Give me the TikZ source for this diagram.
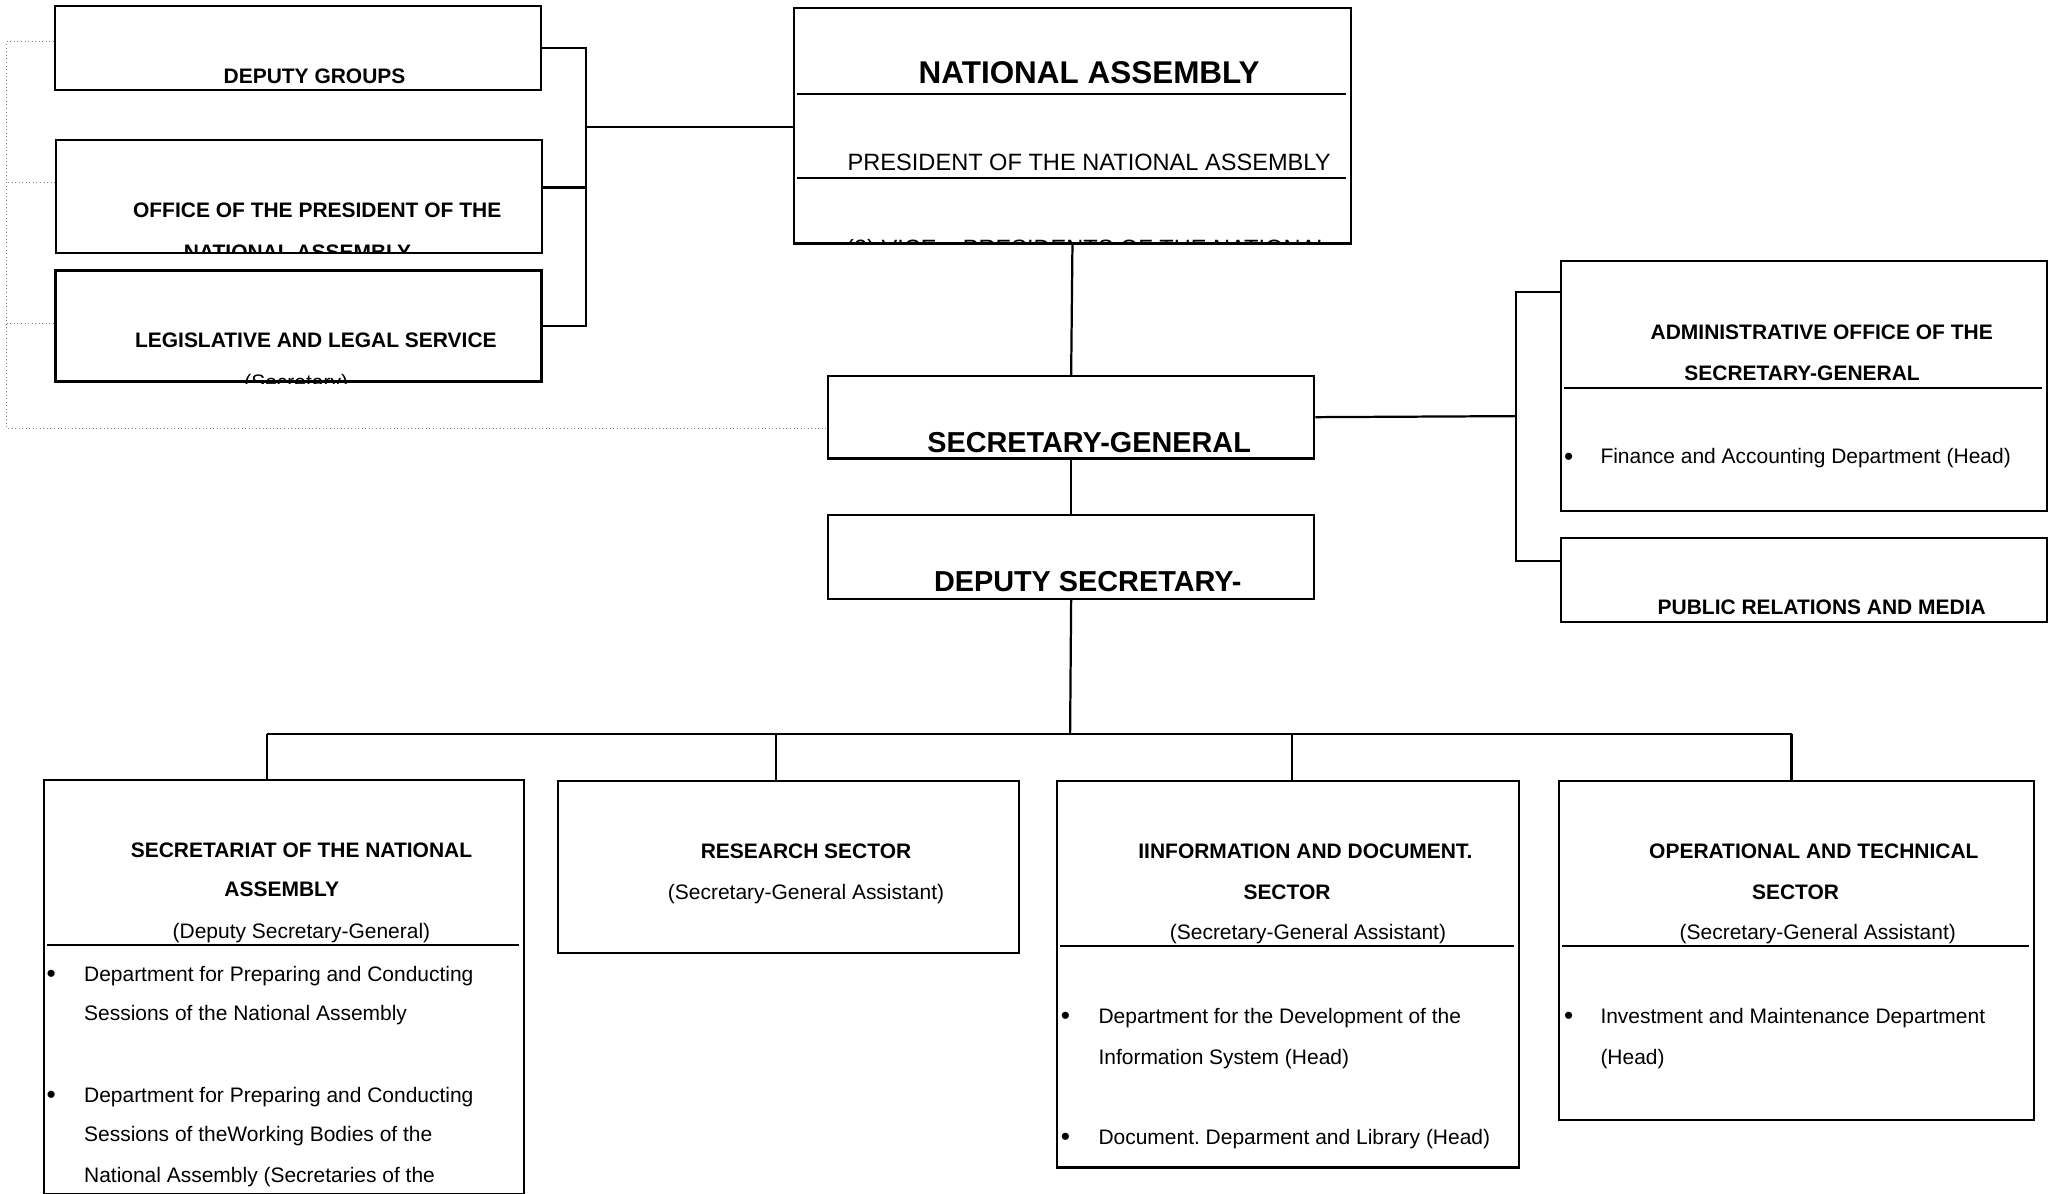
\documentclass[tikz,border=0pt]{standalone}
\usepackage{fontspec}
\setmainfont{Liberation Sans}
\usetikzlibrary{positioning,calc}
\frenchspacing

\begin{document}
\begin{tikzpicture}[
  x=1pt, y=-1pt,
  orgbox/.style={draw, line width=1.6pt, inner sep=0pt, anchor=north west},
  heavybox/.style={orgbox, line width=2.6pt},
  hd/.style={anchor=base, inner sep=0pt, font=\fontsize{16}{19}\selectfont\bfseries},
  bighd/.style={hd, font=\fontsize{22}{26}\selectfont\bfseries},
  tl/.style={anchor=base, inner sep=0pt, font=\fontsize{16}{19}\selectfont},
  item/.style={tl, anchor=base west},
  bul/.style={tl, font=\fontsize{20}{24}\selectfont},
  conn/.style={line width=1.7pt},
  sepline/.style={line width=1.6pt},
  dotline/.style={gray, dotted, line width=0.7pt},
]
  \useasboundingbox (0,0) rectangle (1568,911);

  % ---------------- top left column ----------------
  \node[orgbox, minimum width=371pt, minimum height=64pt] (dg) at (41,4) {};
  \node[orgbox, minimum width=371pt, minimum height=86pt] (op) at (42,106) {};
  \node[heavybox, minimum width=371pt, minimum height=85pt] (ls) at (41,205) {};
  \node[hd] (dgt) at (240,64) {DEPUTY GROUPS};
  \begin{scope}
    \clip (op.south west) rectangle (op.north east);
    \node[hd] (opt1) at (242,166) {OFFICE OF THE PRESIDENT OF THE};
    \node[hd] (opt2) at (227,198) {NATIONAL ASSEMBLY};
  \end{scope}
  \begin{scope}
    \clip (ls.south west) rectangle (ls.north east);
    \node[hd] (lst1) at (241,265) {LEGISLATIVE AND LEGAL SERVICE};
    \node[tl] (lst2) at (226,297.5) {(Secretary)};
  \end{scope}

  % ---------------- national assembly ----------------
  \node[orgbox, minimum width=425pt, minimum height=180pt] (na) at (605,5) {};
  \draw[sepline] (608,72) -- (1027,72);
  \draw[sepline] (608,136) -- (1027,136);
  \node[hd, font=\fontsize{24}{28}\selectfont\bfseries] (nat) at (831,64) {NATIONAL ASSEMBLY};
  \node[tl, font=\fontsize{18}{21}\selectfont] (pres) at (831,130) {PRESIDENT OF THE NATIONAL ASSEMBLY};
  \begin{scope}
    \clip (na.south west) rectangle (na.north east);
    \node[tl, font=\fontsize{18}{21}\selectfont] (vice) at (830,195.5) {(2) VICE -- PRESIDENTS OF THE NATIONAL};
  \end{scope}

  % ---------------- secretary-general ----------------
  \node[orgbox, minimum width=371pt, minimum height=63pt] (sg) at (631,286) {};
  \node[orgbox, minimum width=371pt, minimum height=64pt] (dsg) at (631,392) {};
  \node[bighd] (sgt) at (831,345) {SECRETARY-GENERAL};
  \node[bighd] (dsgt) at (830,451) {DEPUTY SECRETARY-};

  % ---------------- right column ----------------
  \node[orgbox, minimum width=371pt, minimum height=191pt] (ao) at (1190,198) {};
  \node[orgbox, minimum width=371pt, minimum height=64pt] (pr) at (1190,410) {};
  \draw[sepline] (1193,296) -- (1558,296);
  \node[hd] (aot1) at (1390,259) {ADMINISTRATIVE OFFICE OF THE};
  \node[hd] (aot2) at (1375,290) {SECRETARY-GENERAL};
  \node[bul] (aob) at (1197,355) {\textbullet};
  \node[item] (aoi) at (1221,354) {Finance and Accounting Department (Head)};
  \node[hd] (prt) at (1390,469) {PUBLIC RELATIONS AND MEDIA};

  % ---------------- sectors ----------------
  \node[orgbox, minimum width=366pt, minimum height=316pt] (sec) at (33,594) {};
  \node[orgbox, minimum width=352pt, minimum height=131pt] (res) at (425,595) {};
  \node[orgbox, minimum width=352pt, minimum height=295pt] (inf) at (806,595) {};
  \node[orgbox, minimum width=362pt, minimum height=259pt] (ops) at (1189,595) {};
  \draw[sepline] (36,721) -- (396,721);
  \draw[sepline] (809,722) -- (1155,722);
  \draw[sepline] (1192,722) -- (1548,722);

  \node[hd] (sect1) at (230,654) {SECRETARIAT OF THE NATIONAL};
  \node[hd] (sect2) at (215,684) {ASSEMBLY};
  \node[tl] (sect3) at (230,716) {(Deputy Secretary-General)};
  \begin{scope}
    \clip (sec.south west) rectangle (sec.north east);
    \node[bul] (secb1) at (39,750) {\textbullet};
    \node[item] (seci1) at (64,749) {Department for Preparing and Conducting};
    \node[item] (seci2) at (64,779) {Sessions of the National Assembly};
    \node[bul] (secb2) at (39,842) {\textbullet};
    \node[item] (seci3) at (64,841) {Department for Preparing and Conducting};
    \node[item] (seci4) at (64,871) {Sessions of theWorking Bodies of the};
    \node[item] (seci5) at (64,902) {National Assembly (Secretaries of the};
  \end{scope}

  \node[hd] (rest1) at (615,655) {RESEARCH SECTOR};
  \node[tl] (rest2) at (615,686) {(Secretary-General Assistant)};

  \node[hd] (inft1) at (996,655) {IINFORMATION AND DOCUMENT.};
  \node[hd] (inft2) at (982,686) {SECTOR};
  \node[tl] (inft3) at (998,717) {(Secretary-General Assistant)};
  \node[bul] (infb1) at (813,782) {\textbullet};
  \node[item] (infi1) at (838,781) {Department for the Development of the};
  \node[item] (infi2) at (838,812) {Information System (Head)};
  \node[bul] (infb2) at (813,874) {\textbullet};
  \node[item] (infi3) at (838,873) {Document. Deparment and Library (Head)};

  \node[hd] (opst1) at (1384,655) {OPERATIONAL AND TECHNICAL};
  \node[hd] (opst2) at (1370,686) {SECTOR};
  \node[tl] (opst3) at (1387,717) {(Secretary-General Assistant)};
  \node[bul] (opsb1) at (1197,782) {\textbullet};
  \node[item] (opsi1) at (1221,781) {Investment and Maintenance Department};
  \node[item] (opsi2) at (1221,812) {(Head)};

  % ---------------- connectors ----------------
  \coordinate (lbus) at (447,97);
  \coordinate (rbus) at (1157,317.5);
  \coordinate (hbus) at (816.5,560);
  \coordinate (dotc) at (5,327);
  \draw[conn] (dg.east) -| (lbus |- ls.east) -- (ls.east);
  \draw[conn] (op.east |- 0,143) -- (lbus |- 0,143);
  \draw[conn] (lbus) -- (na.west |- lbus);
  \draw[dotline] (dg.west |- 0,32) -| (dotc) -- (sg.west |- dotc);
  \draw[dotline] (op.west |- 0,139) -- (dotc |- 0,139);
  \draw[dotline] (ls.west |- 0,247) -- (dotc |- 0,247);
  \draw[conn] (na.south) -- (sg.north);
  \draw[conn] (sg.south) -- (dsg.south |- dsg.north);
  \draw[conn] (sg.east) -- (rbus);
  \draw[conn] (ao.west |- 0,223) -| (rbus |- 0,428) -- (pr.west |- 0,428);
  \draw[conn] (dsg.south) -- (hbus);
  \draw[conn] (204,560) -- (1367,560);
  \foreach \bx/\dx in {sec/204, res/592, inf/986, ops/1367}
    \draw[conn] (\dx,560) -- (\bx.north -| \dx,0);
\end{tikzpicture}
\end{document}
